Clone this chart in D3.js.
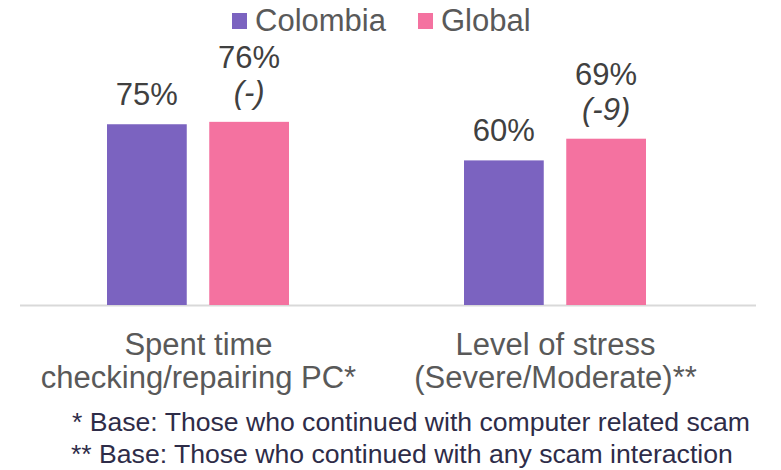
<!DOCTYPE html>
<html><head><meta charset="utf-8">
<script src="https://cdn.jsdelivr.net/npm/d3@7"></script>
<style>body{margin:0;background:#fff}svg{display:block;font-family:"Liberation Sans",Arial,sans-serif}</style>
</head><body><svg id="c" width="781" height="470"></svg>
<script>
const categories = [["Spent time","checking/repairing PC*"],["Level of stress","(Severe/Moderate)**"]];
const series = ["Colombia","Global"];
const colombia = [75, 60];
const global = [76, 69];
const globalDiff = ["(-)", "(-9)"];
const footnotes = ["* Base: Those who continued with computer related scam","** Base: Those who continued with any scam interaction"];
const colors = ["#7b63c0","#f472a0"];

const svg = d3.select("#c");
const catIdx = categories.map((d,i)=>i);
const x0 = d3.scaleBand().domain(catIdx).range([20,734]);
const x1 = d3.scaleBand().domain(series).range([87,269]).paddingInner(0.22);
const y = d3.scaleLinear().domain([0,100]).range([305,64]);

const data = catIdx.map(i=>({i, vals:[{s:"Colombia",v:colombia[i]},{s:"Global",v:global[i],diff:globalDiff[i]}]}));

svg.append("line").attr("x1",20).attr("x2",756).attr("y1",305.5).attr("y2",305.5).attr("stroke","#d9d9d9").attr("stroke-width",2);

const g = svg.selectAll("g.grp").data(data).join("g").attr("transform",d=>`translate(${x0(d.i)},0)`);
g.selectAll("rect").data(d=>d.vals).join("rect")
  .attr("x",d=>x1(d.s)).attr("width",x1.bandwidth())
  .attr("y",d=>y(d.v)).attr("height",d=>y(0)-y(d.v))
  .attr("fill",(d,j)=>colors[j]);

g.selectAll("text.val").data(d=>d.vals).join("text").attr("class","val")
  .attr("x",d=>x1(d.s)+x1.bandwidth()/2)
  .attr("y",d=>y(d.v)-19 - (d.diff?35:0))
  .attr("text-anchor","middle").attr("font-size",31).attr("fill","#404040")
  .text(d=>d.v+"%");
g.selectAll("text.diff").data(d=>d.vals.filter(v=>v.diff)).join("text").attr("class","diff")
  .attr("x",d=>x1(d.s)+x1.bandwidth()/2)
  .attr("y",d=>y(d.v)-19)
  .attr("text-anchor","middle").attr("font-size",31).attr("font-style","italic").attr("fill","#404040")
  .text(d=>d.diff);

g.each(function(d){
  const t = d3.select(this).append("text").attr("text-anchor","middle").attr("font-size",31).attr("fill","#595959");
  categories[d.i].forEach((line,k)=>t.append("tspan").attr("x",x0.bandwidth()/2).attr("y",355+k*33).text(line));
});

// legend
const leg = [{s:"Colombia",x:232},{s:"Global",x:418}];
leg.forEach((l,j)=>{
  svg.append("rect").attr("x",l.x).attr("y",13).attr("width",15).attr("height",16).attr("fill",colors[j]);
  svg.append("text").attr("x",l.x+23).attr("y",31).attr("font-size",31).attr("fill","#595959").text(l.s);
});

// footnotes
footnotes.forEach((f,k)=>{
  svg.append("text").attr("x",k===0?72:71).attr("y",431+k*31.5).attr("font-size",26.6).attr("fill","#2e2c48").text(f);
});
</script></body></html>
